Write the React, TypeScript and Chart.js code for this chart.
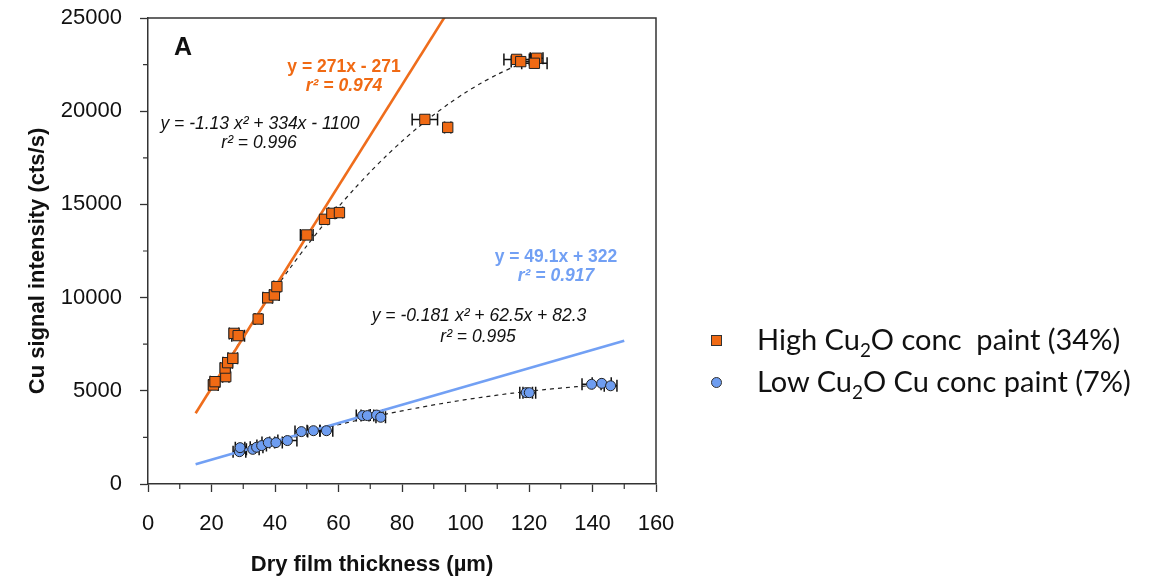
import React, { useEffect, useRef } from "react";
import { Chart, registerables } from "chart.js";
Chart.register(...registerables);

// ---- data ----
const highX = [20.6, 21.1, 24.5, 24.3, 25.1, 26.7, 27.1, 28.4, 34.7, 37.7, 39.8, 40.6, 50.0, 55.6, 57.9, 60.3, 87.2, 94.4, 116.1, 117.4, 122.4, 121.7];
const highY = [5310, 5490, 5760, 6220, 6510, 6740, 8080, 7960, 8850, 9990, 10140, 10590, 13360, 14200, 14520, 14560, 19560, 19130, 22780, 22660, 22840, 22570];
const highXErr = [1.5, 1.5, 1, 1.5, 1.5, 1.5, 1.5, 2, 1, 1.5, 1.5, 1, 2, 1, 1, 1, 4, 1, 4, 3, 2, 4];

const lowX = [28.8, 29.0, 33.0, 34.2, 35.8, 37.9, 40.3, 43.9, 48.3, 52.1, 56.2, 67.6, 69.1, 72.0, 73.3, 119.1, 120.1, 139.7, 142.9, 145.7];
const lowY = [1735, 1950, 1860, 1970, 2060, 2220, 2220, 2330, 2810, 2860, 2860, 3670, 3670, 3700, 3580, 4900, 4900, 5350, 5400, 5270];
const lowXErr = [2, 1.5, 2, 2, 1.5, 2, 2, 3, 2, 2, 2, 2, 2, 2, 1.5, 2, 2, 3, 3, 2];

// fitted equations printed on the chart
const highLinear = [271, -271];
const lowLinear = [49.1, 322];
const highQuad = [-1.13, 334, -1100];
const lowQuad = [-0.181, 62.5, 82.3];
const highLinXs = [15, 95];
const lowLinXs = [15, 150];
const highQuadXs = [20, 25, 30, 35, 40, 45, 50, 55, 60, 65, 70, 75, 80, 85, 90, 95, 100, 105, 110, 115, 122];
const lowQuadXs = [28, 35, 45, 55, 65, 75, 85, 95, 105, 115, 125, 135, 145];

const xTickValues = [0, 20, 40, 60, 80, 100, 120, 140, 160];
const yTickValues = [0, 5000, 10000, 15000, 20000, 25000];
const xTitle = "Dry film thickness (µm)";
const yTitle = "Cu signal intensity (cts/s)";

const ORANGE = "#f06a14";
const ORANGE_LINE = "#ef6d1c";
const BLUE = "#6e9df0";
const BLUE_LINE = "#72a0f4";

const lin = (c: number[], xs: number[]) => xs.map((x) => ({ x, y: c[0] * x + c[1] }));
const quad = (c: number[], xs: number[]) => xs.map((x) => ({ x, y: c[0] * x * x + c[1] * x + c[2] }));

const errorBarPlugin = {
  id: "errorBars",
  beforeDatasetsDraw(chart: any) {
    const { ctx, scales } = chart;
    const xs = scales.x;
    const ys = scales.y;
    ctx.save();
    ctx.strokeStyle = "#111";
    ctx.lineWidth = 1.5;
    const draw = (X: number[], Y: number[], E: number[]) => {
      X.forEach((x, i) => {
        const y = ys.getPixelForValue(Y[i]);
        const x0 = xs.getPixelForValue(x - E[i]);
        const x1 = xs.getPixelForValue(x + E[i]);
        ctx.beginPath();
        ctx.moveTo(x0, y);
        ctx.lineTo(x1, y);
        ctx.moveTo(x0, y - 6);
        ctx.lineTo(x0, y + 6);
        ctx.moveTo(x1, y - 6);
        ctx.lineTo(x1, y + 6);
        ctx.stroke();
      });
    };
    draw(highX, highY, highXErr);
    draw(lowX, lowY, lowXErr);
    ctx.restore();
  },
};

const decorPlugin = {
  id: "decor",
  afterDraw(chart: any) {
    const { ctx, chartArea, scales } = chart;
    const { left, right, top, bottom } = chartArea;
    ctx.save();
    // frame
    ctx.strokeStyle = "#333";
    ctx.lineWidth = 1.5;
    ctx.beginPath();
    ctx.moveTo(left, top);
    ctx.lineTo(right, top);
    ctx.lineTo(right, bottom);
    ctx.stroke();
    // minor ticks
    ctx.lineWidth = 1.2;
    ctx.beginPath();
    for (let v = 2500; v < 25000; v += 5000) {
      const p = scales.y.getPixelForValue(v);
      ctx.moveTo(left, p);
      ctx.lineTo(left - 5, p);
    }
    for (let v = 10; v < 160; v += 20) {
      const p = scales.x.getPixelForValue(v);
      ctx.moveTo(p, bottom);
      ctx.lineTo(p, bottom + 5);
    }
    ctx.stroke();

    // axis titles
    ctx.fillStyle = "#111";
    ctx.textAlign = "center";
    ctx.textBaseline = "middle";
    ctx.font = "bold 22px 'Liberation Sans', Arial";
    ctx.fillText(xTitle, 372, 565);
    ctx.save();
    ctx.translate(38, 261);
    ctx.rotate(-Math.PI / 2);
    ctx.fillText(yTitle, 0, 0);
    ctx.restore();

    // annotations
    ctx.textAlign = "left";
    ctx.font = "bold 25px 'Liberation Sans', Arial";
    ctx.fillText("A", 174, 48);

    ctx.textAlign = "center";
    ctx.fillStyle = ORANGE;
    ctx.font = "bold 17.5px 'Liberation Sans', Arial";
    ctx.fillText("y = 271x - 271", 344, 67);
    ctx.font = "italic bold 17.5px 'Liberation Sans', Arial";
    ctx.fillText("r² = 0.974", 344, 86);

    ctx.fillStyle = "#111";
    ctx.font = "italic 17.5px 'Liberation Sans', Arial";
    ctx.fillText("y = -1.13 x² + 334x - 1100", 260, 124);
    ctx.fillText("r² = 0.996", 259, 143);

    ctx.fillStyle = BLUE_LINE;
    ctx.font = "bold 17.5px 'Liberation Sans', Arial";
    ctx.fillText("y = 49.1x + 322", 556, 257);
    ctx.font = "italic bold 17.5px 'Liberation Sans', Arial";
    ctx.fillText("r² = 0.917", 556, 276);

    ctx.fillStyle = "#111";
    ctx.font = "italic 17.5px 'Liberation Sans', Arial";
    ctx.fillText("y = -0.181 x² + 62.5x + 82.3", 479, 316);
    ctx.fillText("r² = 0.995", 478, 337);
    ctx.restore();
  },
};

export default function App() {
  const ref = useRef<HTMLCanvasElement | null>(null);
  useEffect(() => {
    if (!ref.current) return;
    const chart = new Chart(ref.current, {
      type: "scatter",
      data: {
        datasets: [
          {
            label: "High Cu2O conc  paint (34%)",
            data: highX.map((x, i) => ({ x, y: highY[i] })),
            pointStyle: "rect",
            pointRadius: 7.3,
            backgroundColor: ORANGE,
            borderColor: "#222",
            borderWidth: 1,
          },
          {
            label: "Low Cu2O Cu conc paint (7%)",
            data: lowX.map((x, i) => ({ x, y: lowY[i] })),
            pointStyle: "circle",
            pointRadius: 5,
            backgroundColor: BLUE,
            borderColor: "#222",
            borderWidth: 1,
          },
          {
            label: "high linear",
            data: lin(highLinear, highLinXs),
            showLine: true,
            borderColor: ORANGE_LINE,
            borderWidth: 2.6,
            pointRadius: 0,
          },
          {
            label: "low linear",
            data: lin(lowLinear, lowLinXs),
            showLine: true,
            borderColor: BLUE_LINE,
            borderWidth: 2.6,
            pointRadius: 0,
          },
          {
            label: "high quad",
            data: quad(highQuad, highQuadXs),
            showLine: true,
            borderColor: "#222",
            borderWidth: 1.2,
            borderDash: [4, 4],
            pointRadius: 0,
            tension: 0.3,
          },
          {
            label: "low quad",
            data: quad(lowQuad, lowQuadXs),
            showLine: true,
            borderColor: "#222",
            borderWidth: 1.2,
            borderDash: [4, 4],
            pointRadius: 0,
            tension: 0.3,
          },
        ],
      },
      options: {
        animation: false,
        responsive: true,
        maintainAspectRatio: false,
        layout: { padding: { top: 18, right: 494, left: 0, bottom: 0 } },
        plugins: { legend: { display: false }, tooltip: { enabled: false } },
        scales: {
          x: {
            type: "linear",
            min: 0,
            max: 160,
            afterBuildTicks: (s: any) => {
              s.ticks = xTickValues.map((v) => ({ value: v }));
            },
            afterFit: (s: any) => {
              s.height = 95;
              s.paddingLeft = 0;
              s.paddingRight = 0;
            },
            ticks: {
              color: "#111",
              padding: 19,
              font: { size: 22, family: "'Liberation Sans', Arial" },
              callback: (v: any) => String(v),
            },
            grid: { drawOnChartArea: false, tickLength: 8, tickColor: "#333", tickWidth: 1.3 },
            border: { display: true, color: "#333", width: 1.5 },
            title: { display: false, text: xTitle },
          },
          y: {
            type: "linear",
            min: 0,
            max: 25000,
            afterBuildTicks: (s: any) => {
              s.ticks = yTickValues.map((v) => ({ value: v }));
            },
            afterFit: (s: any) => {
              s.width = 148;
              s.paddingTop = 0;
              s.paddingBottom = 0;
            },
            ticks: {
              color: "#111",
              padding: 18,
              font: { size: 22, family: "'Liberation Sans', Arial" },
              callback: (v: any) => String(v),
            },
            grid: { drawOnChartArea: false, tickLength: 8, tickColor: "#333", tickWidth: 1.3 },
            border: { display: true, color: "#333", width: 1.5 },
            title: { display: false, text: yTitle },
          },
        },
      },
      plugins: [errorBarPlugin, decorPlugin],
    } as any);
    return () => chart.destroy();
  }, []);

  const legendText: React.CSSProperties = {
    position: "absolute",
    left: 757,
    fontFamily: "Lato, 'Open Sans', sans-serif",
    fontSize: 29,
    color: "#111",
    whiteSpace: "pre",
    lineHeight: "34px",
  };

  return (
    <div style={{ position: "absolute", left: 0, top: 0, width: 1150, height: 579, background: "#fff" }}>
      <canvas ref={ref} />
      <div
        style={{
          position: "absolute",
          left: 711,
          top: 335,
          width: 9,
          height: 9,
          background: ORANGE,
          border: "1px solid #333",
        }}
      />
      <div
        style={{
          position: "absolute",
          left: 711,
          top: 377,
          width: 9,
          height: 9,
          borderRadius: "50%",
          background: BLUE,
          border: "1px solid #333",
        }}
      />
      <div style={{ ...legendText, top: 322 }}>
        High Cu<sub style={{ fontSize: "0.65em", lineHeight: 0 }}>2</sub>O conc  paint (34%)
      </div>
      <div style={{ ...legendText, top: 364 }}>
        Low Cu<sub style={{ fontSize: "0.65em", lineHeight: 0 }}>2</sub>O Cu conc paint (7%)
      </div>
    </div>
  );
}
